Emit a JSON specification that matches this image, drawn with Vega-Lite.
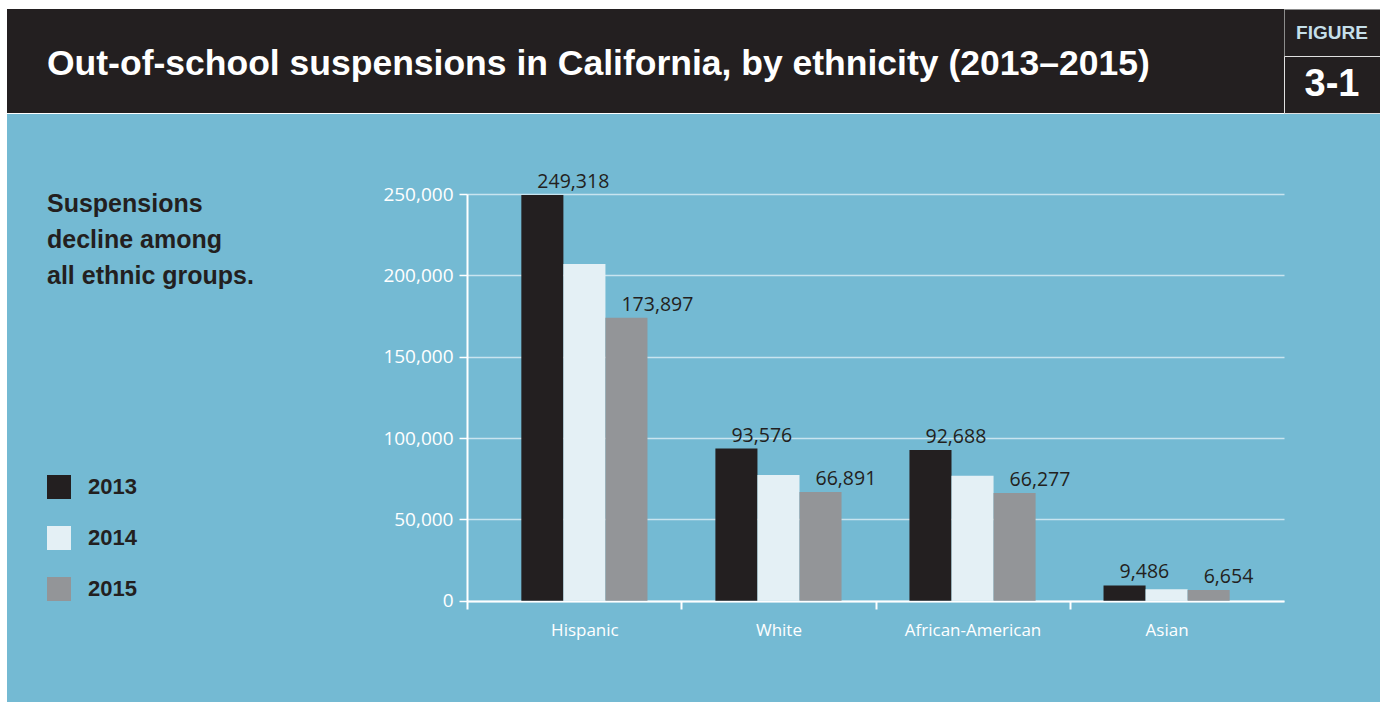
{
  "$schema": "https://vega.github.io/schema/vega-lite/v6.json",
  "background": "white",
  "padding": {"left": 7, "top": 8, "right": 0, "bottom": 0},
  "spacing": 0,
  "config": {"view": {"stroke": null}},
  "vconcat": [
    {
      "hconcat": [
        {
          "width": 1277, "height": 104,
          "data": {"values": []},
          "mark": "point",
          "view": {"fill": "#231f20", "stroke": null},
          "title": {"text": "Out-of-school suspensions in California, by ethnicity (2013\u20132015)", "anchor": "start", "frame": "group", "dx": 40, "offset": -73, "font": "Liberation Sans", "fontSize": 35.5, "fontWeight": "bold", "color": "#ffffff"}
        },
        {
          "vconcat": [
            {
              "width": 96, "height": 47,
              "data": {"values": []},
              "mark": "point",
              "view": {"fill": "#231f20", "stroke": "#8c8c8c", "strokeWidth": 1},
              "title": {"text": "FIGURE", "anchor": "middle", "frame": "group", "offset": -34, "font": "Liberation Sans", "fontSize": 19, "fontWeight": "bold", "color": "#c5dfea"}
            },
            {
              "width": 96, "height": 57,
              "data": {"values": []},
              "mark": "point",
              "view": {"fill": "#231f20", "stroke": "#e0e0e0", "strokeWidth": 1},
              "title": {"text": "3-1", "anchor": "middle", "frame": "group", "offset": -48, "font": "Liberation Sans", "fontSize": 38, "fontWeight": "bold", "color": "#ffffff"}
            }
          ],
          "spacing": 0,
          "bounds": "flush"
        }
      ],
      "spacing": 0,
      "bounds": "flush"
    },
    {
      "width": 1373, "height": 589,
      "view": {"fill": "#74bad3", "stroke": null},
      "data": {"values": [
        {"ethnicity": "Hispanic", "year": "2013", "value": 249318},
        {"ethnicity": "Hispanic", "year": "2014", "value": 207000},
        {"ethnicity": "Hispanic", "year": "2015", "value": 173897},
        {"ethnicity": "White", "year": "2013", "value": 93576},
        {"ethnicity": "White", "year": "2014", "value": 77400},
        {"ethnicity": "White", "year": "2015", "value": 66891},
        {"ethnicity": "African-American", "year": "2013", "value": 92688},
        {"ethnicity": "African-American", "year": "2014", "value": 76800},
        {"ethnicity": "African-American", "year": "2015", "value": 66277},
        {"ethnicity": "Asian", "year": "2013", "value": 9486},
        {"ethnicity": "Asian", "year": "2014", "value": 7200},
        {"ethnicity": "Asian", "year": "2015", "value": 6654}
      ]},
      "encoding": {
        "x": {
          "field": "ethnicity", "type": "nominal",
          "sort": ["Hispanic", "White", "African-American", "Asian"],
          "scale": {"range": [460, 1277], "paddingInner": 0.35, "paddingOuter": 0.28},
          "axis": {
            "title": null, "orient": "bottom", "offset": -102, "grid": false,
            "domainColor": "#ffffff", "domainWidth": 2,
            "tickColor": "#ffffff", "tickWidth": 2, "tickSize": 8,
            "tickOffset": -97, "labelOffset": 97,
            "tickOpacity": {"condition": {"test": "datum.value === 'Hispanic'", "value": 0}, "value": 1},
            "labelColor": "#ffffff", "labelFont": "Open Sans", "labelFontSize": 17,
            "labelPadding": 13, "labelAngle": 0
          }
        },
        "xOffset": {"field": "year", "type": "nominal", "sort": ["2013", "2014", "2015"], "scale": {"paddingInner": 0, "paddingOuter": 0}},
        "y": {
          "field": "value", "type": "quantitative", "stack": null,
          "scale": {"domain": [-5000, 250000], "range": [495, 80], "nice": false},
          "axis": {
            "title": null, "offset": -460,
            "values": [0, 50000, 100000, 150000, 200000, 250000],
            "labelExpr": "format(datum.value, ',')",
            "domainColor": "#ffffff", "domainWidth": 2,
            "tickColor": "#ffffff", "tickWidth": 1.5, "tickSize": 8,
            "labelColor": "#ffffff", "labelFont": "Open Sans", "labelFontSize": 19, "labelPadding": 6,
            "gridColor": "#c8e4ef", "gridWidth": 1.5
          }
        }
      },
      "layer": [
        {
          "mark": {"type": "bar"},
          "encoding": {
            "color": {
              "field": "year", "type": "nominal",
              "scale": {"domain": ["2013", "2014", "2015"], "range": ["#231f20", "#e4f0f5", "#939598"]},
              "legend": {
                "orient": "none", "legendX": 40, "legendY": 183,
                "title": ["Suspensions", "decline among", "all ethnic groups."],
                "titleFont": "Liberation Sans", "titleFontSize": 25, "titleFontWeight": "bold",
                "titleColor": "#231f20", "titleLineHeight": 36, "titleLimit": 500, "titlePadding": 186,
                "symbolType": "square", "symbolSize": 576, "symbolStrokeWidth": 0, "symbolOpacity": 1,
                "labelFont": "Liberation Sans", "labelFontSize": 22, "labelFontWeight": "bold",
                "labelColor": "#231f20", "labelOffset": 17, "rowPadding": 27
              }
            }
          }
        },
        {
          "transform": [{"filter": "datum.year != '2014'"}],
          "mark": {"type": "text", "align": "left", "baseline": "alphabetic", "dx": -5, "dy": -7, "font": "Open Sans", "fontSize": 19.5, "color": "#231f20"},
          "encoding": {"text": {"field": "value", "type": "quantitative", "format": ","}}
        }
      ]
    }
  ]
}
